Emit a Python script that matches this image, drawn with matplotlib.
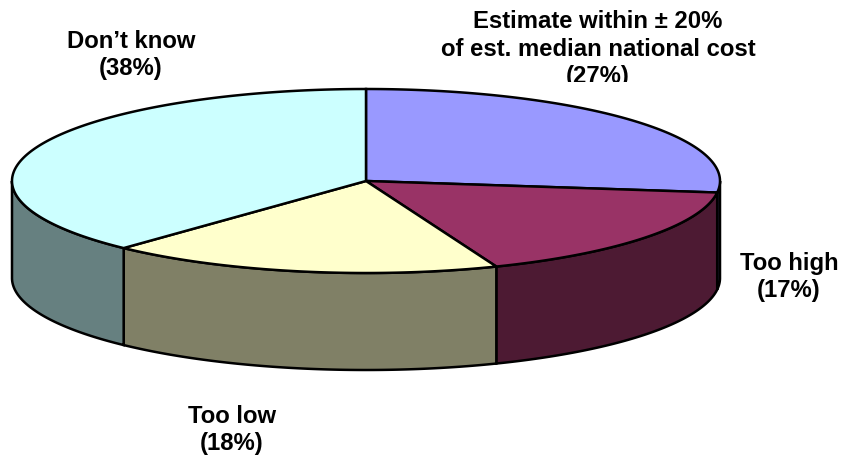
import numpy as np
import matplotlib
matplotlib.use('Agg')
import matplotlib.pyplot as plt
from matplotlib.patches import Rectangle

labels = ['Estimate within ± 20%\nof est. median national cost\n(27%)', 'Too high\n(17%)', 'Too low\n(18%)', 'Don\u2019t know\n(38%)']
shares = [27, 17, 18, 38]
top_colors = ['#9999FF', '#993366', '#FFFFCC', '#CCFFFF']
side_colors = ['#4D4D80', '#4D1A33', '#808066', '#668080']
label_pos = [(598, 10), (789, 252), (232, 405), (131, 30)]

W, H = 844, 456
cx, cy = 366, 182
rx, ry = 354, 92
depth = 97


def arc(a0, a1, n=200):
    # angles run clockwise from 12 o'clock, screen y points down
    t = np.radians(np.linspace(a0, a1, n))
    return cx + rx * np.sin(t), cy - ry * np.cos(t)


fig = plt.figure(figsize=(W / 100, H / 100), dpi=100)
ax = fig.add_axes([0, 0, 1, 1])
ax.set_xlim(0, W)
ax.set_ylim(H, 0)
ax.axis('off')

edges = np.cumsum([0] + shares) * 3.6

# side walls first, only the front half of the rim is visible
for i in range(len(shares)):
    a0 = max(edges[i], 90)
    a1 = min(edges[i + 1], 270)
    if a1 <= a0:
        continue
    x, y = arc(a0, a1)
    ax.fill(np.r_[x, x[::-1]], np.r_[y, y[::-1] + depth],
            fc=side_colors[i], ec='black', lw=1.8, joinstyle='miter')

for i in range(len(shares)):
    x, y = arc(edges[i], edges[i + 1])
    ax.fill(np.r_[cx, x], np.r_[cy, y], fc=top_colors[i], ec='black', lw=1.8, joinstyle='miter')

plt.rcParams['font.family'] = ['Liberation Sans']
for i, (lab, pos) in enumerate(zip(labels, label_pos)):
    t = ax.text(pos[0], pos[1], lab, ha='center', va='top', fontweight='bold',
                fontsize=17.2, linespacing=1.25, color='black')
    if i == 0:
        # the top label box stops short of its last line
        t.set_clip_path(Rectangle((0, 0), W, 83, transform=ax.transData))
        t.set_clip_on(True)

fig.savefig('out.png', dpi=100)
